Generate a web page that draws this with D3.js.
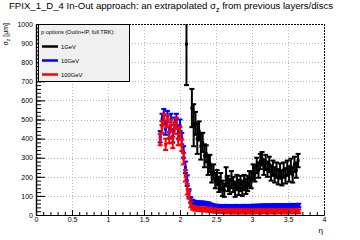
<!DOCTYPE html>
<html><head><meta charset="utf-8">
<script src="https://cdn.jsdelivr.net/npm/d3@7"></script>
<style>body{margin:0;background:#fff}svg{display:block}text{font-family:"Liberation Sans",Arial,Helvetica,sans-serif}</style>
</head><body><svg id="c" width="360" height="240"></svg>
<script>
const xTicks=[0,0.5,1,1.5,2,2.5,3,3.5,4];
const xTickLabels=["0","0.5","1","1.5","2","2.5","3","3.5","4"];
const yTicks=[0,100,200,300,400,500,600,700,800,900,1000];
const yTickLabels=["0","100","200","300","400","500","600","700","800","900","1000"];
const seriesNames=["1GeV","10GeV","100GeV"];
const seriesColors=["#000000","#0000ff","#ff0000"];

const etaBlack=[2.09,2.165,2.19,2.215,2.24,2.265,2.29,2.315,2.34,2.365,2.39,2.415,2.44,2.465,2.49,2.515,2.54,2.565,2.59,2.615,2.64,2.665,2.69,2.715,2.74,2.765,2.79,2.815,2.84,2.865,2.89,2.915,2.94,2.965,2.99,3.015,3.04,3.065,3.09,3.115,3.14,3.165,3.19,3.215,3.24,3.265,3.29,3.315,3.34,3.365,3.39,3.415,3.44,3.465,3.49,3.515,3.54,3.565,3.59,3.615,3.64];
const sigma1GeV=[895,560,470,480,400,440,360,380,310,320,260,270,215,225,180,195,160,175,140,130,200,165,150,185,160,135,170,145,165,140,170,150,165,190,180,225,215,260,235,280,295,250,275,240,265,220,245,210,235,200,230,195,235,205,245,215,255,210,265,235,285];
const err1GeV=[215,100,110,60,80,50,70,50,60,45,50,45,45,40,40,40,40,45,40,35,50,40,40,45,40,40,40,40,40,40,40,40,40,40,40,40,40,40,40,40,35,40,40,40,40,40,40,40,40,40,40,40,40,40,40,40,40,40,40,40,35];

const etaRB=[1.725,1.75,1.775,1.8,1.825,1.85,1.875,1.9,1.925,1.95,1.975,2.0,2.025,2.05,2.075,2.1,2.125,2.15,2.175,2.2,2.225,2.25,2.275,2.3,2.325,2.35,2.375,2.4,2.425,2.45,2.475,2.5,2.525,2.55,2.575,2.6,2.625,2.65,2.675,2.7,2.725,2.75,2.775,2.8,2.825,2.85,2.875,2.9,2.925,2.95,2.975,3.0,3.025,3.05,3.075,3.1,3.125,3.15,3.175,3.2,3.225,3.25,3.275,3.3,3.325,3.35,3.375,3.4,3.425,3.45,3.475,3.5,3.525,3.55,3.575,3.6,3.625,3.65];
const sigma10GeV=[410,500,525,450,515,430,500,410,480,500,430,470,400,330,250,180,115,78,70,66,64,63,62,62,61,60,58,57,52,48,46,45,43,44,43,42,43,44,43,42,43,43,44,43,42,43,44,43,44,43,44,44,45,44,45,46,45,46,47,46,47,46,47,48,47,46,47,48,47,48,47,48,49,48,49,48,49,50];
const err10GeV=[30,30,30,30,30,30,30,30,30,30,30,30,30,30,30,28,20,15,10,9,9,9,9,9,9,9,9,9,9,9,9,9,9,9,9,9,9,9,9,9,9,9,9,9,9,9,9,9,9,9,9,9,9,9,9,9,9,9,9,9,9,9,9,9,9,9,9,9,9,9,9,9,9,9,9,9,9,9];
const sigma100GeV=[395,460,500,370,490,405,470,380,455,480,395,430,365,295,205,135,105,55,38,34,33,32,31,30,30,29,28,27,25,24,23,22,21,20,21,20,19,20,19,20,19,18,19,20,19,18,19,20,19,18,19,19,18,19,20,19,18,19,20,19,18,19,20,19,18,19,20,19,20,19,18,19,20,19,20,19,20,19];
const err100GeV=[30,30,30,30,30,30,30,30,30,30,30,30,30,30,30,28,20,15,10,10,10,10,10,10,10,10,10,10,10,10,10,10,10,10,10,10,10,10,10,10,10,10,10,10,10,10,10,10,10,10,10,10,10,10,10,10,10,10,10,10,10,10,10,10,10,10,10,10,10,10,10,10,10,10,10,10,10,10];

const L=36,R=324,T=24,B=215;
const svg=d3.select("#c");
const x=d3.scaleLinear().domain([0,4]).range([L,R]);
const y=d3.scaleLinear().domain([0,1000]).range([B,T]);

// grid
const g=svg.append("g");
g.selectAll(".gx").data(xTicks.filter(v=>v>0&&v<4)).join("line")
 .attr("x1",d=>x(d)+0.5).attr("x2",d=>x(d)+0.5).attr("y1",T).attr("y2",B)
 .attr("stroke","#b4b4b4").attr("stroke-dasharray","1,2");
g.selectAll(".gy").data(yTicks.filter(v=>v>0&&v<1000)).join("line")
 .attr("y1",d=>Math.round(y(d))+0.5).attr("y2",d=>Math.round(y(d))+0.5).attr("x1",L).attr("x2",R)
 .attr("stroke","#b4b4b4").attr("stroke-dasharray","1,2");

// clip
svg.append("clipPath").attr("id","pc").append("rect").attr("x",L).attr("y",T).attr("width",R-L).attr("height",B-T);
const plot=svg.append("g").attr("clip-path","url(#pc)");

function drawSeries(etas,vals,errs,color){
  const gs=plot.append("g");
  const d=etas.map((e,i)=>({e,v:vals[i],s:errs[i]}));
  gs.selectAll("line.v").data(d).join("line")
    .attr("x1",p=>x(p.e)).attr("x2",p=>x(p.e))
    .attr("y1",p=>y(p.v+p.s)).attr("y2",p=>y(p.v-p.s))
    .attr("stroke",color).attr("stroke-width",2);
  gs.selectAll("line.t").data(d).join("line")
    .attr("x1",p=>x(p.e)-2.5).attr("x2",p=>x(p.e)+2.5)
    .attr("y1",p=>y(p.v+p.s)).attr("y2",p=>y(p.v+p.s))
    .attr("stroke",color).attr("stroke-width",2);
  gs.selectAll("line.b").data(d).join("line")
    .attr("x1",p=>x(p.e)-2.5).attr("x2",p=>x(p.e)+2.5)
    .attr("y1",p=>y(p.v-p.s)).attr("y2",p=>y(p.v-p.s))
    .attr("stroke",color).attr("stroke-width",2);
  gs.selectAll("rect").data(d).join("rect")
    .attr("x",p=>x(p.e)-1.5).attr("y",p=>y(p.v)-1.5).attr("width",3).attr("height",3)
    .attr("fill",color);
}
drawSeries(etaBlack,sigma1GeV,err1GeV,seriesColors[0]);
drawSeries(etaRB,sigma10GeV,err10GeV,seriesColors[1]);
drawSeries(etaRB,sigma100GeV,err100GeV,seriesColors[2]);

// frame top/right dashed
svg.append("line").attr("x1",L).attr("x2",R).attr("y1",T+0.5).attr("y2",T+0.5).attr("stroke","#000").attr("stroke-dasharray","2,1");
svg.append("line").attr("x1",R+0.5).attr("x2",R+0.5).attr("y1",T).attr("y2",B).attr("stroke","#000").attr("stroke-dasharray","2,1");

// axes
const xMinor=d3.range(0,41).map(i=>i/10);
const yMinor=d3.range(0,51).map(i=>i*20);
const ax=svg.append("g").attr("transform",`translate(0,${B})`);
ax.call(d3.axisBottom(x).tickValues(xMinor).tickSize(-3).tickSizeOuter(0).tickFormat(""));
ax.append("g").call(d3.axisBottom(x).tickValues(xTicks).tickSize(-5).tickSizeOuter(0).tickPadding(2).tickFormat((d,i)=>xTickLabels[i]));
const ay=svg.append("g").attr("transform",`translate(${L},0)`);
ay.call(d3.axisLeft(y).tickValues(yMinor).tickSize(-5).tickSizeOuter(0).tickFormat(""));
ay.append("g").call(d3.axisLeft(y).tickValues(yTicks).tickSize(-9).tickSizeOuter(0).tickPadding(3).tickFormat((d,i)=>yTickLabels[i]));
svg.selectAll(".domain").attr("stroke","#000").attr("stroke-width",1.2);
svg.selectAll(".tick line").attr("stroke","#000");
svg.selectAll(".tick text").attr("font-size",7).attr("fill","#000").attr("font-family",null);

// axis titles
svg.append("text").attr("x",323).attr("y",233).attr("text-anchor","end").attr("font-size",8).text("η");
const yl=svg.append("text").attr("transform","translate(8,23) rotate(-90)").attr("text-anchor","end").attr("font-size",7);
yl.append("tspan").text("σ");
yl.append("tspan").attr("font-size",5).attr("dy",2).text("z");
yl.append("tspan").attr("dy",-2).text(" [μm]");

// title
const tt=svg.append("text").attr("x",9).attr("y",9).attr("font-size",9.6);
tt.append("tspan").text("FPIX_1_D_4 In-Out approach: an extrapolated σ");
tt.append("tspan").attr("font-size",7).attr("dy",2.5).text("z");
tt.append("tspan").attr("dy",-2.5).text(" from previous layers/discs");

// legend
const lg=svg.append("g");
lg.append("rect").attr("x",38.5).attr("y",24.5).attr("width",91).attr("height",57).attr("fill","#f0f0f0").attr("stroke","#000");
lg.append("text").attr("x",41).attr("y",34).attr("font-size",5.6).text("p options (OutIn+IP, full TRK):");
seriesNames.forEach((n,i)=>{
  const yy=46.5+i*14;
  lg.append("line").attr("x1",42).attr("x2",58).attr("y1",yy).attr("y2",yy).attr("stroke",seriesColors[i]).attr("stroke-width",2.5);
  lg.append("text").attr("x",61).attr("y",yy+2).attr("font-size",5.8).text(n);
});
</script></body></html>
